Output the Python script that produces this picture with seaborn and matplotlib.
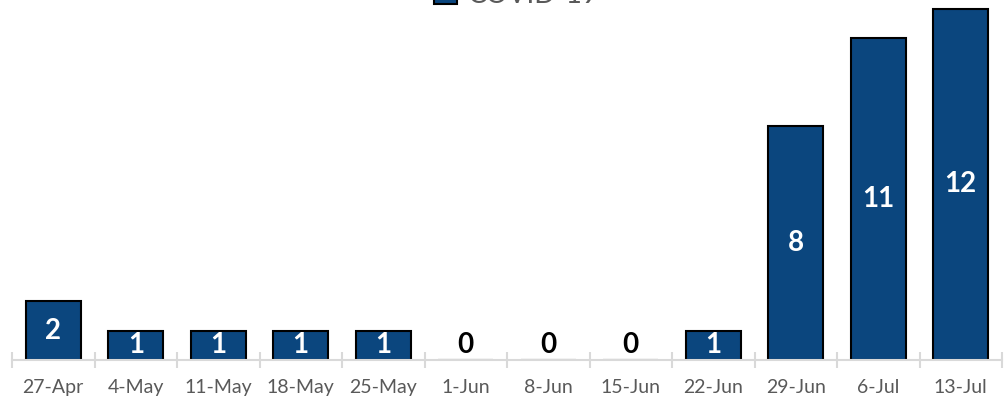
import numpy as np
import pandas as pd
import matplotlib.pyplot as plt
import seaborn as sns

# weekly counts
weeks = ['27-Apr', '4-May', '11-May', '18-May', '25-May', '1-Jun',
         '8-Jun', '15-Jun', '22-Jun', '29-Jun', '6-Jul', '13-Jul']
cases = [2, 1, 1, 1, 1, 0, 0, 0, 1, 8, 11, 12]
series_name = 'COVID-19'

df = pd.DataFrame({'week': weeks, 'cases': cases})

sns.set_style('white')
plt.rcParams['font.family'] = ['Lato', 'DejaVu Sans']

bar_color = '#0B467E'
grid_gray = '#D9D9D9'

fig = plt.figure(figsize=(10.05, 4.01), dpi=100)
ax = fig.add_axes([12 / 1005, 41 / 401, 990 / 1005, 360 / 401])

sns.barplot(data=df, x='week', y='cases', color=bar_color, saturation=1,
            edgecolor='black', linewidth=1.5, width=0.667, label=series_name, ax=ax)

ax.set_xlim(-0.5, len(weeks) - 0.5)
ax.set_ylim(0, 12.3)

# value labels
for patch, val in zip(ax.patches, cases):
    x = patch.get_x() + patch.get_width() / 2
    if val > 0:
        ax.text(x, val / 2, str(val), ha='center', va='center', color='white',
                fontsize=20, fontweight='bold')
    else:
        ax.text(x, 0.5, str(val), ha='center', va='center', color='black',
                fontsize=20, fontweight='bold')

# axis styling
for side in ['top', 'left', 'right']:
    ax.spines[side].set_visible(False)
ax.spines['bottom'].set_color(grid_gray)
ax.spines['bottom'].set_linewidth(1.5)
ax.set_yticks([])
ax.set_xlabel('')
ax.set_ylabel('')
ax.set_xticks(np.arange(-0.5, len(weeks), 1), minor=True)
ax.tick_params(axis='x', which='major', bottom=True, length=0, pad=14,
               labelsize=14, labelcolor='#595959')
ax.tick_params(axis='x', which='minor', bottom=True, direction='inout',
               length=12, width=1.5, color=grid_gray)

leg = ax.get_legend()
if leg is not None:
    leg.remove()
fig.legend(loc='lower center', bbox_to_anchor=(0.514, 1 - 8 / 401), frameon=False,
           fontsize=20, labelcolor='#595959', handlelength=0.8, handleheight=0.8,
           handletextpad=0.4, borderpad=0, borderaxespad=0)

fig.savefig('out.png', dpi=100)
